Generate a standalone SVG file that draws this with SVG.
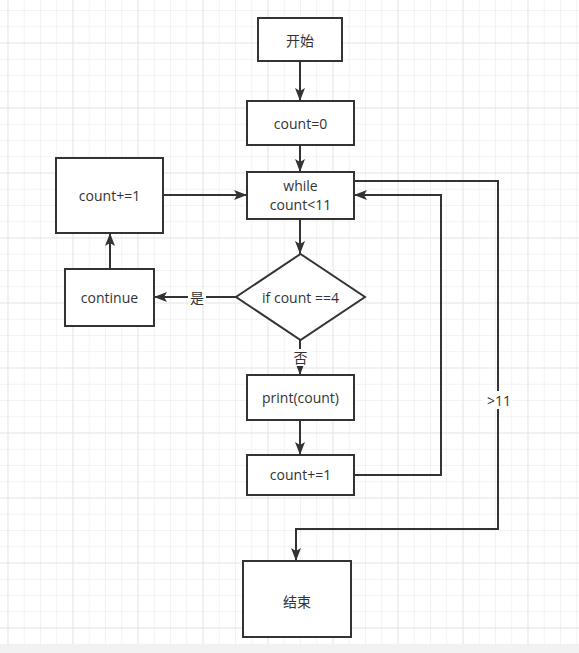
<svg xmlns="http://www.w3.org/2000/svg" width="579" height="653" viewBox="0 0 579 653">
<style>
.n{fill:#fff;stroke:#333;stroke-width:2}
.t{font-family:"Open Sans","Noto Sans CJK SC",sans-serif;font-size:14px;fill:#333;text-anchor:middle;dominant-baseline:central}
.c{fill:none;stroke:#333;stroke-width:2}
.lb{fill:#fff}
</style>
<defs>
<pattern id="minor" x="7.5" y="10" width="16.25" height="16.25" patternUnits="userSpaceOnUse">
<path d="M0 0H16.25M0 0V16.25" fill="none" stroke="#efefef" stroke-width="1.5"/>
</pattern>
<pattern id="major" x="7.5" y="42.5" width="65" height="65" patternUnits="userSpaceOnUse">
<path d="M0 0H65M0 0V65" fill="none" stroke="#e4e4e4" stroke-width="1.5"/>
</pattern>
<marker id="ah" markerUnits="userSpaceOnUse" markerWidth="14" markerHeight="12" refX="13" refY="5" orient="auto" viewBox="0 0 14 10">
<path d="M0 0L13 5L0 10L3 5Z" fill="#333"/>
</marker>
</defs>
<rect width="579" height="653" fill="#fff"/>
<rect width="579" height="644" fill="url(#minor)"/>
<rect width="579" height="644" fill="url(#major)"/>
<rect y="644" width="579" height="9" fill="#f2f2f2"/>
<g id="connectors">
<path class="c" d="M300 62V101" marker-end="url(#ah)"/>
<path class="c" d="M300 145V172" marker-end="url(#ah)"/>
<path class="c" d="M300 219V254" marker-end="url(#ah)"/>
<path class="c" d="M236 297H154" marker-end="url(#ah)"/>
<rect class="lb" x="188" y="289" width="18" height="16"/>
<text class="t" x="197" y="297">是</text>
<path class="c" d="M110 269V233" marker-end="url(#ah)"/>
<path class="c" d="M163 195H247" marker-end="url(#ah)"/>
<path class="c" d="M300 340V375" marker-end="url(#ah)"/>
<rect class="lb" x="291" y="349" width="19" height="17"/>
<text class="t" x="300.5" y="357">否</text>
<path class="c" d="M300 420V455" marker-end="url(#ah)"/>
<path class="c" d="M354 475H441V195H354" marker-end="url(#ah)"/>
<path class="c" d="M354 181H498V529H296V561" marker-end="url(#ah)"/>
<rect class="lb" x="483" y="391" width="30" height="18"/>
<text class="t" x="499" y="400">&gt;11</text>
</g>
<g id="start"><rect class="n" x="258" y="18" width="84" height="43"/><text class="t" x="300" y="40">开始</text></g>
<g id="init"><rect class="n" x="247" y="101" width="107" height="44"/><text class="t" x="300.5" y="123">count=0</text></g>
<g id="while"><rect class="n" x="247" y="172" width="107" height="47"/><text class="t" x="300.5" y="185.5">while</text><text class="t" x="300.5" y="204">count&lt;11</text></g>
<g id="inc-left"><rect class="n" x="56" y="158" width="107" height="75"/><text class="t" x="109.5" y="195">count+=1</text></g>
<g id="continue"><rect class="n" x="65" y="269" width="89" height="57"/><text class="t" x="109.5" y="297">continue</text></g>
<g id="if"><path class="n" d="M300.5 254L365 297L300.5 340L236 297Z"/><text class="t" x="300.5" y="297">if count ==4</text></g>
<g id="print"><rect class="n" x="247" y="375" width="107" height="45"/><text class="t" x="300.5" y="397">print(count)</text></g>
<g id="inc"><rect class="n" x="247" y="455" width="107" height="40"/><text class="t" x="300.5" y="474">count+=1</text></g>
<g id="end"><rect class="n" x="243" y="561" width="108" height="76"/><text class="t" x="297" y="601">结束</text></g>
</svg>
